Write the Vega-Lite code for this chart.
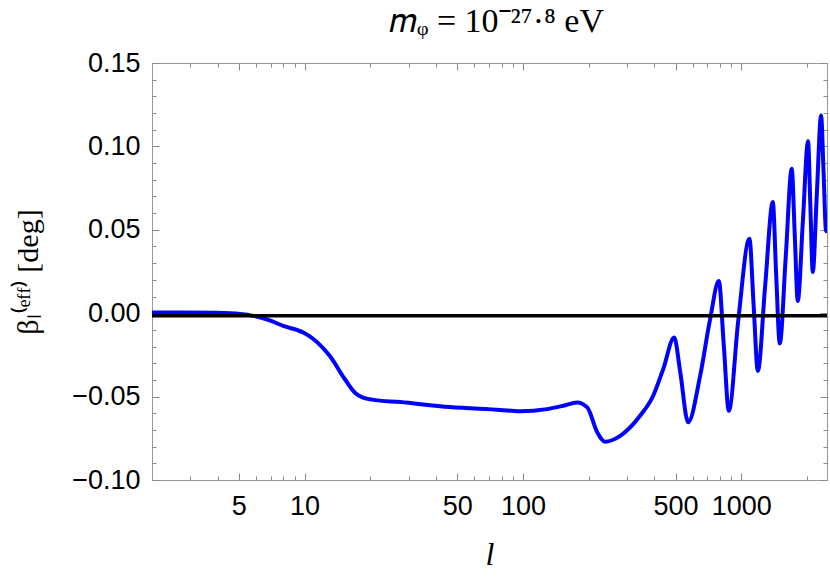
{
  "$schema": "https://vega.github.io/schema/vega-lite/v6.json",
  "width": 675,
  "height": 417,
  "autosize": "none",
  "padding": {"left": 152, "top": 63, "right": 3, "bottom": 105},
  "background": "white",
  "title": {"text": "𝑚ᵩ = 10⁻²⁷·⁸ eV", "font": "Liberation Serif", "fontSize": 34, "fontWeight": "normal", "color": "black", "anchor": "middle", "baseline": "alphabetic", "offset": -17, "dx": 7},
  "config": {
    "view": {"stroke": "#999999", "strokeWidth": 1},
    "axis": {"domain": false, "tickColor": "#888888", "tickWidth": 1, "grid": false, "labelFont": "Liberation Sans", "labelFontSize": 27, "labelColor": "black", "titleFont": "Liberation Serif", "titleFontWeight": "normal", "titleColor": "black", "labelFlush": false, "labelOverlap": false}
  },
  "data": {"values": [
    {"l": 2, "beta": 0.0004},
    {"l": 2.84, "beta": 0.0004},
    {"l": 3.98, "beta": 0.0002},
    {"l": 5.07, "beta": -0.0005},
    {"l": 5.82, "beta": -0.0016},
    {"l": 6.82, "beta": -0.004},
    {"l": 7.98, "beta": -0.0076},
    {"l": 9.86, "beta": -0.0116},
    {"l": 11.0, "beta": -0.0156},
    {"l": 13.1, "beta": -0.026},
    {"l": 15.3, "beta": -0.0396},
    {"l": 17.1, "beta": -0.048},
    {"l": 18.4, "beta": -0.0505},
    {"l": 20.4, "beta": -0.0518},
    {"l": 27.4, "beta": -0.0533},
    {"l": 46.4, "beta": -0.0563},
    {"l": 78.7, "beta": -0.058},
    {"l": 97, "beta": -0.0588},
    {"l": 129, "beta": -0.0575},
    {"l": 153, "beta": -0.0555},
    {"l": 177, "beta": -0.0535},
    {"l": 197, "beta": -0.0565},
    {"l": 219, "beta": -0.0714},
    {"l": 238, "beta": -0.077},
    {"l": 279, "beta": -0.0735},
    {"l": 344, "beta": -0.0615},
    {"l": 395, "beta": -0.0495},
    {"l": 439, "beta": -0.0335},
    {"l": 493, "beta": -0.0146},
    {"l": 525, "beta": -0.035},
    {"l": 571, "beta": -0.0654},
    {"l": 648, "beta": -0.0376},
    {"l": 720, "beta": -0.0036},
    {"l": 789, "beta": 0.0193},
    {"l": 832, "beta": -0.0196},
    {"l": 877, "beta": -0.0585},
    {"l": 970, "beta": -0.0036},
    {"l": 1090, "beta": 0.0447},
    {"l": 1139, "beta": 0.005},
    {"l": 1191, "beta": -0.0346},
    {"l": 1286, "beta": 0.016},
    {"l": 1395, "beta": 0.0666},
    {"l": 1444, "beta": 0.024},
    {"l": 1501, "beta": -0.0182},
    {"l": 1599, "beta": 0.034},
    {"l": 1703, "beta": 0.0866},
    {"l": 1758, "beta": 0.047},
    {"l": 1815, "beta": 0.0073},
    {"l": 1915, "beta": 0.055},
    {"l": 2023, "beta": 0.1031},
    {"l": 2073, "beta": 0.064},
    {"l": 2126, "beta": 0.0247},
    {"l": 2220, "beta": 0.072},
    {"l": 2321, "beta": 0.1185},
    {"l": 2382, "beta": 0.085},
    {"l": 2446, "beta": 0.0492},
    {"l": 2462, "beta": 0.052}
  ]},
  "layer": [
    {
      "mark": {"type": "line", "color": "#0000ff", "strokeWidth": 4, "interpolate": "monotone", "clip": true},
      "encoding": {
        "x": {"field": "l", "type": "quantitative",
          "scale": {"type": "log", "domain": [2, 2470], "nice": false},
          "axis": {"orient": "bottom", "offset": 0, "title": "l", "titleFontStyle": "italic", "titleFontSize": 32, "titlePadding": 20,
            "values": [5,10,50,100,500,1000], "format": "d",
            "ticks": false, "labelPadding": 13}
        },
        "y": {"field": "beta", "type": "quantitative",
          "scale": {"domain": [-0.1, 0.15], "nice": false, "zero": false},
          "axis": {"orient": "left", "offset": 0, "title": "βₗ⁽ᵉᶠᶠ⁾ [deg]", "titleFontSize": 30, "titlePadding": 28,
            "values": [-0.1,-0.05,0,0.05,0.1,0.15], "format": ".2f",
            "ticks": false, "labelPadding": 12}
        }
      }
    },
    {
      "data": {"values": [{"level": -0.0016}]},
      "mark": {"type": "rule", "color": "black", "strokeWidth": 3.5},
      "encoding": {
        "y": {"field": "level", "type": "quantitative", "scale": {"domain": [-0.1, 0.15], "nice": false, "zero": false}, "axis": null}
      }
    },
    {
      "mark": {"type": "line", "opacity": 0},
      "encoding": {
        "x": {"field": "l", "type": "quantitative",
          "scale": {"type": "log", "domain": [2, 2470], "nice": false},
          "axis": {"orient": "bottom", "offset": -7, "tickSize": 7, "title": null, "labels": false,
            "values": [5,10,50,100,500,1000]}
        },
        "y": {"field": "beta", "type": "quantitative",
          "scale": {"domain": [-0.1, 0.15], "nice": false, "zero": false},
          "axis": {"orient": "left", "offset": -7, "tickSize": 7, "title": null, "labels": false,
            "values": [-0.1,-0.05,0,0.05,0.1,0.15]}
        }
      }
    },
    {
      "mark": {"type": "line", "opacity": 0},
      "encoding": {
        "x": {"field": "l", "type": "quantitative",
          "scale": {"type": "log", "domain": [2, 2470], "nice": false},
          "axis": {"orient": "bottom", "offset": -4, "tickSize": 4, "title": null, "labels": false,
            "values": [3,4,6,7,8,9,20,30,40,60,70,80,90,200,300,400,600,700,800,900,2000]}
        },
        "y": {"field": "beta", "type": "quantitative",
          "scale": {"domain": [-0.1, 0.15], "nice": false, "zero": false},
          "axis": {"orient": "left", "offset": -4, "tickSize": 4, "title": null, "labels": false,
            "values": [-0.09,-0.08,-0.07,-0.06,-0.04,-0.03,-0.02,-0.01,0.01,0.02,0.03,0.04,0.06,0.07,0.08,0.09,0.11,0.12,0.13,0.14]}
        }
      }
    },
    {
      "mark": {"type": "line", "opacity": 0},
      "encoding": {
        "x": {"field": "l", "type": "quantitative",
          "scale": {"type": "log", "domain": [2, 2470], "nice": false},
          "axis": {"orient": "top", "offset": -7, "tickSize": 7, "title": null, "labels": false,
            "values": [5,10,50,100,500,1000]}
        },
        "y": {"field": "beta", "type": "quantitative",
          "scale": {"domain": [-0.1, 0.15], "nice": false, "zero": false},
          "axis": {"orient": "right", "offset": -7, "tickSize": 7, "title": null, "labels": false,
            "values": [-0.1,-0.05,0,0.05,0.1,0.15]}
        }
      }
    },
    {
      "mark": {"type": "line", "opacity": 0},
      "encoding": {
        "x": {"field": "l", "type": "quantitative",
          "scale": {"type": "log", "domain": [2, 2470], "nice": false},
          "axis": {"orient": "top", "offset": -4, "tickSize": 4, "title": null, "labels": false,
            "values": [3,4,6,7,8,9,20,30,40,60,70,80,90,200,300,400,600,700,800,900,2000]}
        },
        "y": {"field": "beta", "type": "quantitative",
          "scale": {"domain": [-0.1, 0.15], "nice": false, "zero": false},
          "axis": {"orient": "right", "offset": -4, "tickSize": 4, "title": null, "labels": false,
            "values": [-0.09,-0.08,-0.07,-0.06,-0.04,-0.03,-0.02,-0.01,0.01,0.02,0.03,0.04,0.06,0.07,0.08,0.09,0.11,0.12,0.13,0.14]}
        }
      }
    }
  ],
  "resolve": {"axis": {"x": "independent", "y": "independent"}}
}
